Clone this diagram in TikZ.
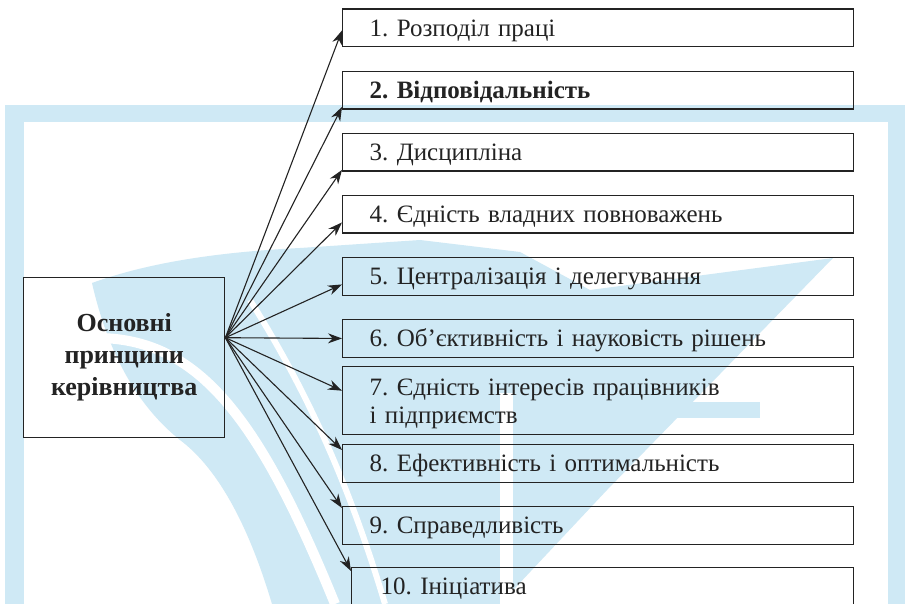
\documentclass[tikz,border=0pt]{standalone}
\usepackage{fontspec}
\setmainfont{Liberation Serif}
\usetikzlibrary{arrows.meta}
\definecolor{wm}{RGB}{207,233,245}
\definecolor{ink}{RGB}{35,35,35}
\tikzset{
  pbox/.style={draw=ink, line width=1.4pt, anchor=north west, align=left,
    inner xsep=27pt, inner ysep=0pt, text width=457pt, minimum height=37.5pt,
    font=\fontsize{25}{28}\selectfont, text=ink,
    execute at begin node={\rule[-6pt]{0pt}{29pt}}},
  mainbox/.style={draw=ink, line width=1.4pt, anchor=north west, align=center,
    minimum width=201pt, minimum height=160pt, inner sep=0pt,
    font=\fontsize{26}{32}\selectfont\bfseries, text=ink},
  arr/.style={draw=ink, line width=1.1pt, -{Stealth[length=14pt,width=10pt]}}
}
\begin{document}
\frenchspacing
\begin{tikzpicture}[x=1pt,y=-1pt]
\useasboundingbox (0,0) rectangle (905,604);
% watermark
\fill[wm] (5,105) rectangle (905,604);
\fill[white] (24,122) rectangle (888,604);
\fill[wm] (92,283) .. controls (150,262) and (220,252) .. (300,248) -- (420,240) -- (520,252) -- (590,290)
  -- (833,258) -- (607,490) -- (500,604) -- (272,604) .. controls (250,530) and (220,470) .. (180,440)
  .. controls (130,400) and (105,340) .. (92,283) -- cycle;
\fill[wm] (640,402) rectangle (760,418);
\draw[white, line width=10pt] (100,338) .. controls (200,340) and (260,420) .. (335,604);
\draw[white, line width=6pt] (250,300) .. controls (300,380) and (345,470) .. (385,604);
\fill[white] (500,393) rectangle (513,604);
% boxes
\node[mainbox] (m) at (23,277) {Основні\\принципи\\керівництва};
\node[pbox] (b1) at (342,8.5) {1. Розподіл праці};
\node[pbox, font=\fontsize{25}{28}\selectfont\bfseries] (b2) at (342,71) {2. Відповідальність};
\node[pbox] (b3) at (342,133) {3. Дисципліна};
\node[pbox] (b4) at (342,195) {4. Єдність владних повноважень};
\node[pbox] (b5) at (342,257) {5. Централізація і делегування};
\node[pbox] (b6) at (342,319) {6. Об’єктивність і науковість рішень};
\node[pbox, minimum height=68pt] (b7) at (342,366) {7. Єдність інтересів працівників\\і підприємств};
\node[pbox] (b8) at (342,444) {8. Ефективність і оптимальність};
\node[pbox] (b9) at (342,506) {9. Справедливість};
\node[pbox, inner xsep=29pt, text width=444pt] (b10) at (351,567) {10. Ініціатива};
% arrows
\coordinate (o) at ([yshift=20pt]m.east);
\draw[arr] (o) -- ([yshift=-2.5pt]b1.west);
\draw[arr] (o) -- ([yshift=3pt]b2.south west);
\draw[arr] (o) -- ([yshift=2pt]b3.south west);
\draw[arr] (o) -- ([yshift=-8pt]b4.west);
\draw[arr] (o) -- ([yshift=-8pt]b5.west);
\draw[arr] (o) -- (b6.west);
\draw[arr] (o) -- ([yshift=10pt]b7.west);
\draw[arr] (o) -- ([yshift=-6pt]b8.north west);
\draw[arr] (o) -- ([yshift=-2pt]b9.north west);
\draw[arr] (o) -- ([yshift=-4pt]b10.north west);
\end{tikzpicture}
\end{document}
